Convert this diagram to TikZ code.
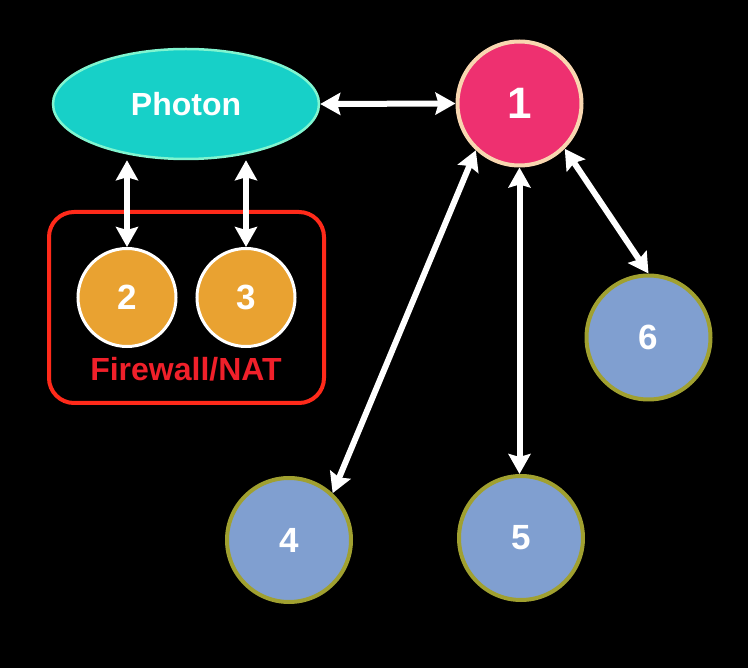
\documentclass[tikz,border=0pt]{standalone}
\usepackage{fontspec}
\setmainfont{Liberation Sans}
\usetikzlibrary{shapes.geometric,arrows.meta}
\definecolor{teal1}{HTML}{17D0C8}
\definecolor{tealedge}{HTML}{80F5D0}
\definecolor{pink1}{HTML}{EE3070}
\definecolor{peach}{HTML}{F8D6B0}
\definecolor{orange1}{HTML}{E9A231}
\definecolor{blue1}{HTML}{809FD0}
\definecolor{olive1}{HTML}{A0A030}
\definecolor{red1}{HTML}{FF2A1A}
\definecolor{red2}{HTML}{F0202A}
\begin{document}
\begin{tikzpicture}[x=1pt,y=1pt,
  lbl/.style={text=white,font=\bfseries\fontsize{35}{37}\selectfont,inner sep=0pt},
  peer/.style={circle,lbl,fill=blue1,draw=olive1,line width=4pt,minimum size=124pt},
  natnode/.style={circle,lbl,fill=orange1,draw=white,line width=3pt,minimum size=98pt},
  link/.style={white,line width=6pt,{Stealth[length=20pt,width=22pt,inset=3pt]}-{Stealth[length=20pt,width=22pt,inset=3pt]}}
]
\fill[black] (0,0) rectangle (748,-668);
\useasboundingbox (0,0) rectangle (748,-668);
\draw[red1,line width=4pt,rounded corners=25pt] (49,-212) rectangle (324,-403);
\node[ellipse,fill=teal1,draw=tealedge,line width=2.5pt,minimum width=266pt,minimum height=110pt,
      text=white,font=\bfseries\fontsize{32}{34}\selectfont,inner sep=0pt] (photon) at (186,-104) {Photon};
\node[circle,lbl,fill=pink1,draw=peach,line width=4pt,minimum size=124pt,
      font=\bfseries\fontsize{44}{46}\selectfont] (n1) at (519.5,-103.5) {1};
\node[natnode] (n2) at (127,-297.5) {2};
\node[natnode] (n3) at (246,-297.5) {3};
\node[text=red2,font=\bfseries\fontsize{32}{34}\selectfont,inner sep=0pt,xscale=1.0] (fw) at (186,-369) {Firewall/NAT};
\node[peer] (n4) at (289,-540) {4};
\node[peer] (n5) at (521,-538) {5};
\node[peer] (n6) at (648.5,-337.5) {6};
\draw[link] (photon.east) -- (n1.west);
\draw[link] (photon.south -| n2.north) -- (n2.north);
\draw[link] (photon.south -| n3.north) -- (n3.north);
\draw[link] (n1.227) -- (n4.47);
\draw[link] (n1.south) -- (n1.south |- n5.north);
\draw[link] (n1.315) -- (n6.north);
\end{tikzpicture}
\end{document}
